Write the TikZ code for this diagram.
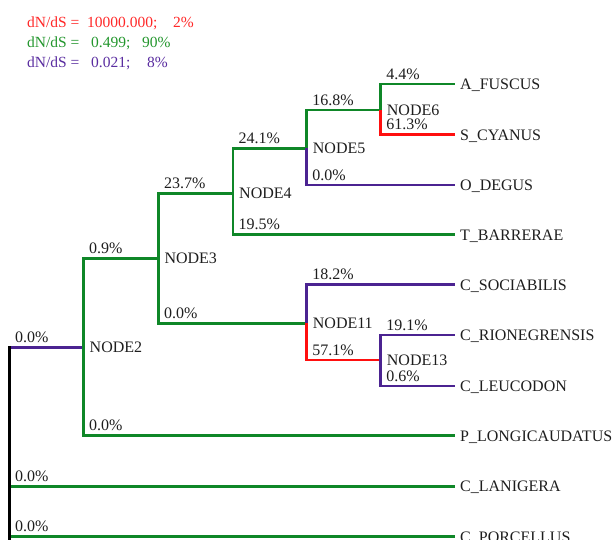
\documentclass[tikz,border=0pt]{standalone}
\usepackage{fontspec}
\setmainfont{Liberation Serif}
\definecolor{tgreen}{RGB}{15,135,40}
\definecolor{tpurple}{RGB}{75,35,145}
\definecolor{tred}{RGB}{255,15,15}
\definecolor{lgreen}{RGB}{35,150,45}
\definecolor{lpurple}{RGB}{90,45,160}
\definecolor{lred}{RGB}{255,40,40}
\definecolor{ink}{RGB}{30,30,30}
\begin{document}
\begin{tikzpicture}[x=1pt,y=-1pt,
  br/.style={line width=2.8pt, line join=miter},
  gbr/.style={br,draw=tgreen},
  pbr/.style={br,draw=tpurple},
  rbr/.style={br,draw=tred},
  kbr/.style={br,draw=black},
  lbl/.style={inner sep=0pt, anchor=base west, text=ink, font=\fontsize{16}{19}\selectfont},
  leg/.style={inner sep=0pt, anchor=base west, font=\fontsize{15.5}{18}\selectfont},
]
\useasboundingbox (0,0) rectangle (616,539);
\clip (0,0) rectangle (616,539);
% internal nodes
\coordinate (R)   at (9.5,347.5);
\coordinate (Rt)  at (9.5,346.1);
\coordinate (Rb)  at (9.5,548);
\coordinate (N2)  at (83.5,347.5);
\coordinate (N3)  at (158.3,258.3);
\coordinate (N4)  at (233,193.5);
\coordinate (N5)  at (306.7,148.3);
\coordinate (N6)  at (380.7,110);
\coordinate (N11) at (306.7,323.3);
\coordinate (N13) at (380.7,360);
% tips
\coordinate (AF) at (455,84);
\coordinate (SC) at (455,134.8);
\coordinate (OD) at (455,185);
\coordinate (TB) at (455,234.5);
\coordinate (CS) at (455,284.5);
\coordinate (CR) at (455,335);
\coordinate (CL) at (455,386);
\coordinate (PL) at (455,435.5);
\coordinate (LA) at (455,486.3);
\coordinate (PO) at (455,536.5);
% branches
\draw[pbr] (R) -- (N2);
\draw[gbr] (R) |- (LA);
\draw[gbr] (R) |- (PO);
\draw[kbr] (Rt) -- (Rb);
\draw[gbr] (N2) |- (N3);
\draw[gbr] (N2) |- (PL);
\draw[gbr] (N3) |- (N4);
\draw[gbr] (N3) |- (N11);
\draw[gbr] (N4) |- (N5);
\draw[gbr] (N4) |- (TB);
\draw[gbr] (N5) |- (N6);
\draw[pbr] (N5) |- (OD);
\draw[gbr] (N6) |- (AF);
\draw[rbr] (N6) |- (SC);
\draw[pbr] (N11) |- (CS);
\draw[rbr] (N11) |- (N13);
\draw[pbr] (N13) |- (CR);
\draw[pbr] (N13) |- (CL);
% node names
\path (N2)  ++(6,5) node[lbl] (lN2) {NODE2};
\path (N3)  ++(6,5) node[lbl] (lN3) {NODE3};
\path (N4)  ++(6,5) node[lbl] (lN4) {NODE4};
\path (N5)  ++(6,5) node[lbl] (lN5) {NODE5};
\path (N6)  ++(6,5) node[lbl] (lN6) {NODE6};
\path (N11) ++(6,5) node[lbl] (lN11) {NODE11};
\path (N13) ++(6,5) node[lbl] (lN13) {NODE13};
% leaf names
\path (AF) ++(5,5.5) node[lbl] (tAF) {A\_FUSCUS};
\path (SC) ++(5,5.5) node[lbl] (tSC) {S\_CYANUS};
\path (OD) ++(5,5.5) node[lbl] (tOD) {O\_DEGUS};
\path (TB) ++(5,5.5) node[lbl] (tTB) {T\_BARRERAE};
\path (CS) ++(5,5.5) node[lbl] (tCS) {C\_SOCIABILIS};
\path (CR) ++(5,5.5) node[lbl] (tCR) {C\_RIONEGRENSIS};
\path (CL) ++(5,5.5) node[lbl] (tCL) {C\_LEUCODON};
\path (PL) ++(5,5.5) node[lbl] (tPL) {P\_LONGICAUDATUS};
\path (LA) ++(5,5.5) node[lbl] (tLA) {C\_LANIGERA};
\path (PO) ++(5,5.5) node[lbl] (tPO) {C\_PORCELLUS};
% branch percentages
\path (R |- N2)   ++(5.5,-5) node[lbl] (pN2) {0.0\%};
\path (R |- LA)   ++(5.5,-5) node[lbl] (pLA) {0.0\%};
\path (R |- PO)   ++(5.5,-5) node[lbl] (pPO) {0.0\%};
\path (N2 |- N3)  ++(5.5,-5) node[lbl] (pN3) {0.9\%};
\path (N2 |- PL)  ++(5.5,-5) node[lbl] (pPL) {0.0\%};
\path (N3 |- N4)  ++(5.5,-5) node[lbl] (pN4) {23.7\%};
\path (N3 |- N11) ++(5.5,-5) node[lbl] (pN11) {0.0\%};
\path (N4 |- N5)  ++(5.5,-5) node[lbl] (pN5) {24.1\%};
\path (N4 |- TB)  ++(5.5,-5) node[lbl] (pTB) {19.5\%};
\path (N5 |- N6)  ++(5.5,-5) node[lbl] (pN6) {16.8\%};
\path (N5 |- OD)  ++(5.5,-5) node[lbl] (pOD) {0.0\%};
\path (N6 |- AF)  ++(5.5,-5) node[lbl] (pAF) {4.4\%};
\path (N6 |- SC)  ++(5.5,-5) node[lbl] (pSC) {61.3\%};
\path (N11 |- CS) ++(5.5,-5) node[lbl] (pCS) {18.2\%};
\path (N11 |- N13) ++(5.5,-5) node[lbl] (pN13) {57.1\%};
\path (N13 |- CR) ++(5.5,-5) node[lbl] (pCR) {19.1\%};
\path (N13 |- CL) ++(5.5,-5) node[lbl] (pCL) {0.6\%};
% legend
\node[leg, text=lred]    (g1a) at (27,27.3) {dN/dS =};
\node[leg, text=lred]    (g1b) at (87,27.3) {10000.000;};
\node[leg, text=lred]    (g1c) at (173,27.3) {2\%};
\node[leg, text=lgreen]  (g2a) at (27,47.5) {dN/dS =};
\node[leg, text=lgreen]  (g2b) at (91,47.5) {0.499;};
\node[leg, text=lgreen]  (g2c) at (142,47.5) {90\%};
\node[leg, text=lpurple] (g3a) at (27,67.7) {dN/dS =};
\node[leg, text=lpurple] (g3b) at (91,67.7) {0.021;};
\node[leg, text=lpurple] (g3c) at (147,67.7) {8\%};
\end{tikzpicture}
\end{document}
